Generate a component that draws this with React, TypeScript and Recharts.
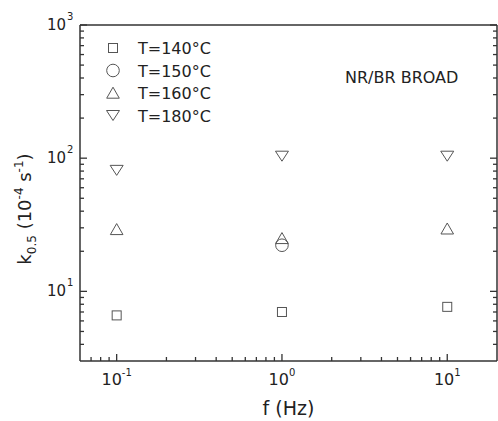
import React from 'react'
import { ScatterChart, Scatter, XAxis, YAxis, Legend, Customized } from 'recharts'

const FREQ = [0.1, 1, 10]
const K_140 = [6.6, 7.0, 7.65]
const FREQ_150 = [1]
const K_150 = [22.2]
const K_160 = [29.2, 25, 29.5]
const K_180 = [81, 103.5, 103.5]

const SERIES_NAMES = ['T=140°C', 'T=150°C', 'T=160°C', 'T=180°C']
const X_TICKS = [0.07, 0.08, 0.09, 0.1, 0.2, 0.3, 0.4, 0.5, 0.6, 0.7, 0.8, 0.9, 1, 2, 3, 4, 5, 6, 7, 8, 9, 10]
const Y_TICKS = [4, 5, 6, 7, 8, 9, 10, 20, 30, 40, 50, 60, 70, 80, 90, 100, 200, 300, 400, 500, 600, 700, 800, 900, 1000]

const FONT = '"DejaVu Sans", Verdana, sans-serif'
const AXIS = '#333'
const MARK = '#555'
const TEXT = '#222'

type Kind = 'square' | 'circle' | 'up' | 'down'
const KINDS: Kind[] = ['square', 'circle', 'up', 'down']

const toPts = (xs: number[], ys: number[]) => xs.map((f, i) => ({ f, k: ys[i] }))

const isMajor = (v: number) => Math.abs(Math.log10(v) - Math.round(Math.log10(v))) < 1e-6
const expOf = (v: number) => String(Math.round(Math.log10(v)))

function Marker({ kind, cx, cy }: { kind: Kind; cx: number; cy: number }) {
  const common = { fill: 'none', stroke: MARK, strokeWidth: 1 }
  if (kind === 'square') return <rect x={cx - 4.5} y={cy - 4.5} width={9} height={9} {...common} />
  if (kind === 'circle') return <circle cx={cx} cy={cy} r={6.3} {...common} />
  if (kind === 'up')
    return <polygon points={`${cx},${cy - 5.8} ${cx + 6.3},${cy + 5.2} ${cx - 6.3},${cy + 5.2}`} {...common} />
  return <polygon points={`${cx - 6.5},${cy - 5} ${cx + 6.5},${cy - 5} ${cx},${cy + 5}`} {...common} />
}

const shapeFor = (kind: Kind) => (p: any) => <Marker kind={kind} cx={p.cx} cy={p.cy} />

function BottomTick({ x, y, payload }: any) {
  const v = payload.value
  const major = isMajor(v)
  return (
    <g>
      <line x1={x} x2={x} y1={y} y2={y - (major ? 7 : 4)} stroke={AXIS} strokeWidth={1.3} />
      {major && (
        <text x={x} y={y + 24} textAnchor="middle" fontFamily={FONT} fontSize={16} fill={TEXT}>
          10<tspan dy={-9} fontSize={10}>{expOf(v)}</tspan>
        </text>
      )}
    </g>
  )
}

function TopTick({ x, y, payload }: any) {
  const major = isMajor(payload.value)
  return <line x1={x} x2={x} y1={y} y2={y + (major ? 7 : 4)} stroke={AXIS} strokeWidth={1.3} />
}

function LeftTick({ x, y, payload }: any) {
  const v = payload.value
  const major = isMajor(v)
  return (
    <g>
      <line x1={x} x2={x + (major ? 7 : 4)} y1={y} y2={y} stroke={AXIS} strokeWidth={1.3} />
      {major && (
        <text x={x - 14} y={y + 5} textAnchor="end" fontFamily={FONT} fontSize={15} fill={TEXT}>
          10
        </text>
      )}
      {major && (
        <text x={x - 13} y={y - 5} textAnchor="start" fontFamily={FONT} fontSize={10} fill={TEXT}>
          {expOf(v)}
        </text>
      )}
    </g>
  )
}

function RightTick({ x, y, payload }: any) {
  const major = isMajor(payload.value)
  return <line x1={x} x2={x - (major ? 7 : 4)} y1={y} y2={y} stroke={AXIS} strokeWidth={1.3} />
}

function YTitle() {
  return (
    <text transform="translate(31,209) rotate(-90)" textAnchor="middle" fontFamily={FONT} fontSize={18} fill={TEXT}>
      k<tspan dy={5} fontSize={12}>0.5</tspan>
      <tspan dy={-5}> (10</tspan>
      <tspan dy={-8} fontSize={12}>-4</tspan>
      <tspan dy={8}> s</tspan>
      <tspan dy={-8} fontSize={12}>-1</tspan>
      <tspan dy={8}>)</tspan>
    </text>
  )
}

function renderLegend(props: any) {
  const items = props.payload || []
  return (
    <svg width={130} height={92} style={{ display: 'block' }}>
      {items.map((it: any, i: number) => {
        const cy = 12 + i * 22.5
        const kind = KINDS[SERIES_NAMES.indexOf(it.value)] ?? 'square'
        return (
          <g key={i}>
            <Marker kind={kind} cx={13} cy={cy} />
            <text x={38} y={cy + 6} fontFamily={FONT} fontSize={16} fill={TEXT}>
              {it.value}
            </text>
          </g>
        )
      })}
    </svg>
  )
}

export default function App() {
  return (
    <div style={{ position: 'absolute', left: 0, top: 0, background: '#fff' }}>
      <ScatterChart width={498} height={421} margin={{ top: 24, right: 0, bottom: 0, left: 0 }}>
        <XAxis
          xAxisId="b"
          dataKey="f"
          type="number"
          scale="log"
          domain={[0.06, 20]}
          allowDataOverflow
          ticks={X_TICKS}
          interval={0}
          tick={<BottomTick />}
          tickLine={false}
          tickSize={0}
          tickMargin={0}
          height={60}
          axisLine={{ stroke: AXIS, strokeWidth: 1.5 }}
          label={{ value: 'f (Hz)', position: 'insideBottom', offset: 6, fontFamily: FONT, fontSize: 19, fill: TEXT }}
        />
        <XAxis
          xAxisId="t"
          orientation="top"
          type="number"
          scale="log"
          domain={[0.06, 20]}
          allowDataOverflow
          ticks={X_TICKS}
          interval={0}
          tick={<TopTick />}
          tickLine={false}
          tickSize={0}
          tickMargin={0}
          height={1}
          axisLine={{ stroke: AXIS, strokeWidth: 1.5 }}
        />
        <YAxis
          yAxisId="l"
          dataKey="k"
          type="number"
          scale="log"
          domain={[3, 1000]}
          allowDataOverflow
          ticks={Y_TICKS}
          interval={0}
          tick={<LeftTick />}
          tickLine={false}
          tickSize={0}
          tickMargin={0}
          width={80}
          axisLine={{ stroke: AXIS, strokeWidth: 1.5 }}
          label={<YTitle />}
        />
        <YAxis
          yAxisId="r"
          orientation="right"
          type="number"
          scale="log"
          domain={[3, 1000]}
          allowDataOverflow
          ticks={Y_TICKS}
          interval={0}
          tick={<RightTick />}
          tickLine={false}
          tickSize={0}
          tickMargin={0}
          width={1}
          axisLine={{ stroke: AXIS, strokeWidth: 1.5 }}
        />
        <Legend
          layout="vertical"
          align="center"
          verticalAlign="middle"
          content={renderLegend}
          wrapperStyle={{ position: 'absolute', left: 100, top: 36, width: 130, height: 92 }}
        />
        <Scatter name={SERIES_NAMES[0]} xAxisId="b" yAxisId="l" data={toPts(FREQ, K_140)} shape={shapeFor('square')} isAnimationActive={false} />
        <Scatter name={SERIES_NAMES[1]} xAxisId="b" yAxisId="l" data={toPts(FREQ_150, K_150)} shape={shapeFor('circle')} isAnimationActive={false} />
        <Scatter name={SERIES_NAMES[2]} xAxisId="b" yAxisId="l" data={toPts(FREQ, K_160)} shape={shapeFor('up')} isAnimationActive={false} />
        <Scatter name={SERIES_NAMES[3]} xAxisId="b" yAxisId="l" data={toPts(FREQ, K_180)} shape={shapeFor('down')} isAnimationActive={false} />
        <Customized
          component={() => (
            <text x={345} y={83} fontFamily={FONT} fontSize={16} fill={TEXT}>
              NR/BR BROAD
            </text>
          )}
        />
      </ScatterChart>
    </div>
  )
}
